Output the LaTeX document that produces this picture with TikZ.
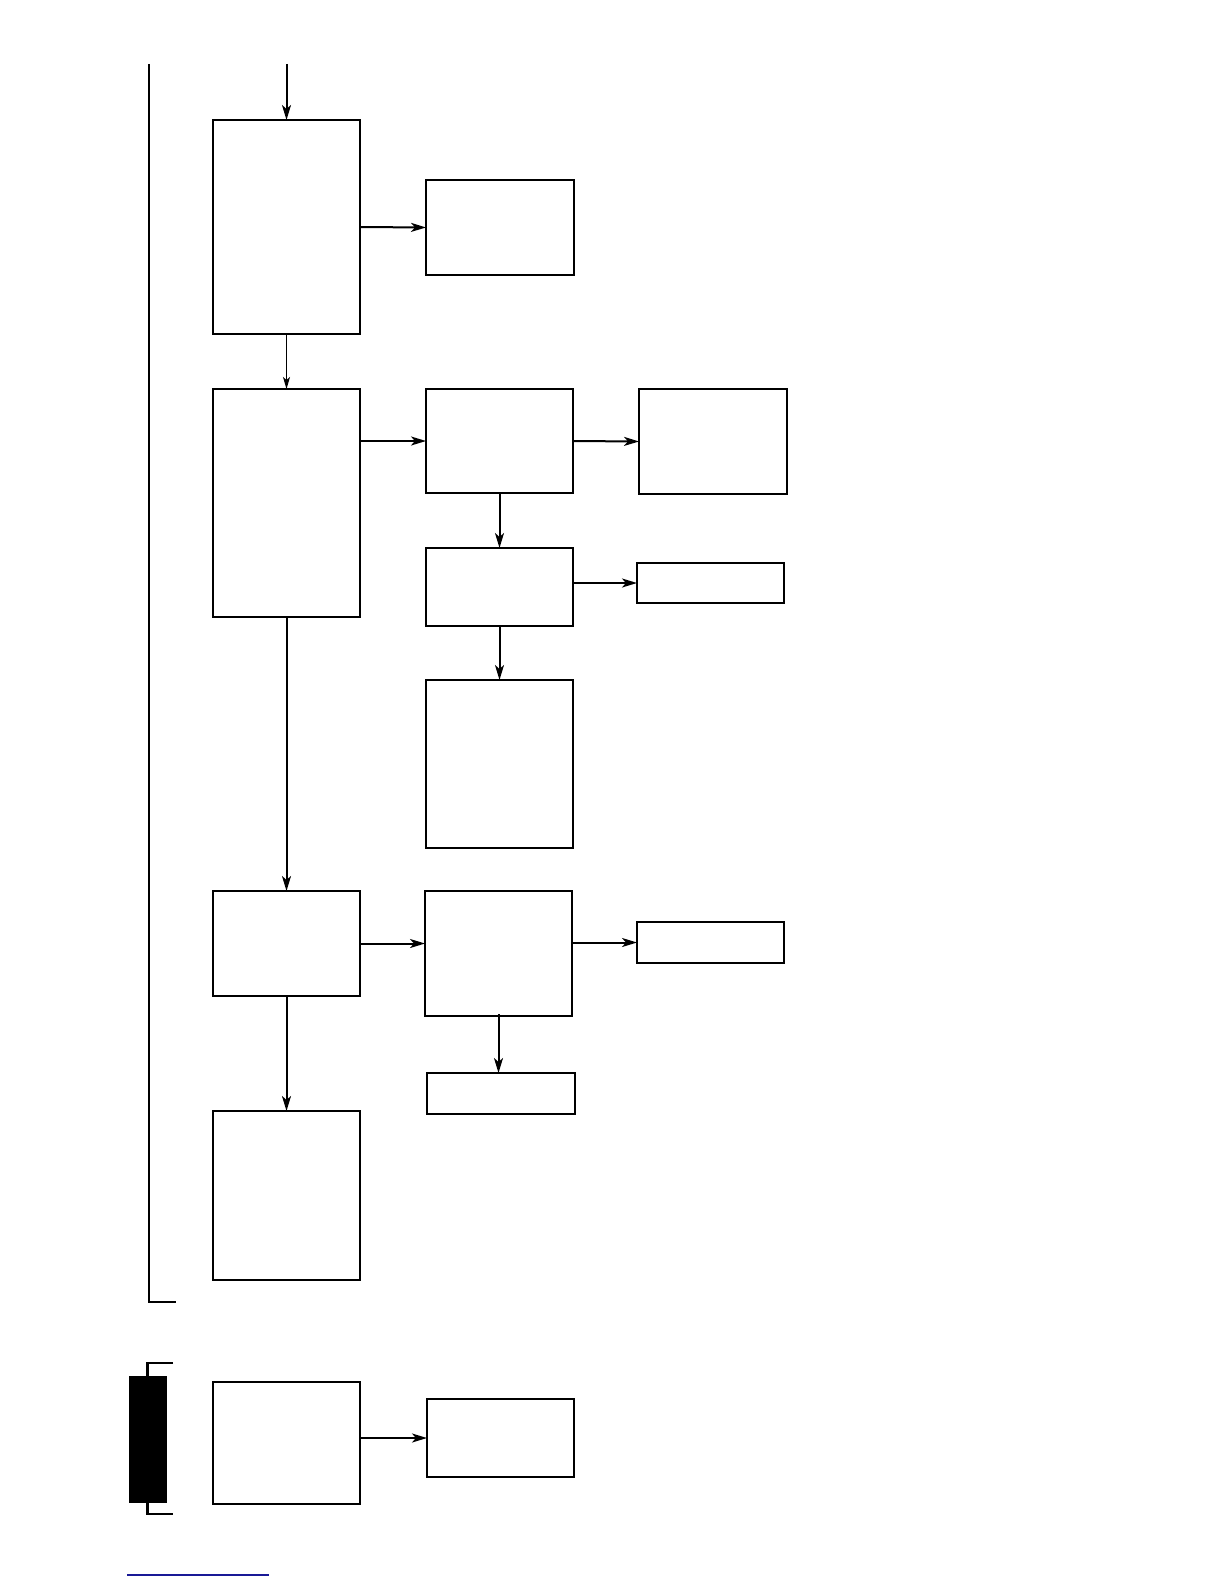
\documentclass[tikz,border=0pt]{standalone}
\usetikzlibrary{arrows.meta}
\begin{document}
\begin{tikzpicture}[x=1pt,y=-1pt,
  box/.style={draw,line width=2.2pt,rectangle,inner sep=0pt,outer sep=0pt,anchor=north west},
  conn/.style={line width=2pt,-{Stealth[length=15pt,width=9pt,inset=4pt]}},
  thinconn/.style={line width=1.2pt,-{Stealth[length=12pt,width=7pt,inset=3pt]}}]
\useasboundingbox (0,0) rectangle (1224,1584);
\newcommand{\bx}[5]{\node[box,minimum width=#4pt,minimum height=#5pt] (#1) at (#2,#3) {};}
\bx{A}{213}{120}{147}{214}
\bx{B}{426}{180}{148}{95}
\bx{C1}{213}{389}{147}{228}
\bx{B2}{426}{389}{147}{104}
\bx{C}{639}{389}{148}{105}
\bx{D}{426}{548}{147}{78}
\bx{E}{637}{563}{147}{40}
\bx{F}{426}{680}{147}{168}
\bx{G}{213}{891}{147}{105}
\bx{H}{425}{891}{147}{125}
\bx{I}{637}{922}{147}{41}
\bx{J}{427}{1073}{148}{41}
\bx{K}{213}{1111}{147}{169}
\bx{L}{213}{1382}{147}{122}
\bx{M}{427}{1399}{147}{78}
\coordinate (top) at (286.5,64);
\draw[conn] (top) -- (A.north);
\draw[conn] (A.east) -- (B.west);
\draw[thinconn] (A.south) -- (C1.north);
\draw[conn] (C1.east |- B2.west) -- (B2.west);
\draw[conn] (B2.east) -- (C.west);
\draw[conn] (B2.south) -- (D.north);
\draw[conn] (D.east |- E.west) -- (E.west);
\draw[conn] (D.south) -- (F.north);
\draw[conn] (C1.south) -- (G.north);
\draw[conn] (G.east) -- (G.east -| H.west);
\draw[conn] (H.east |- I.west) -- (I.west);
\coordinate (hs) at ([yshift=2pt]H.south);
\draw[conn] (hs) -- (J.north -| hs);
\draw[conn] (G.south) -- (K.north);
\draw[conn] (L.east |- M.west) -- (M.west);
% left bracket
\draw[line width=2.2pt] (149,64) -- (149,1302) -- (176,1302);
% lower bracket and black bar
\draw[line width=2.2pt] (173,1363) -- (147.5,1363) -- (147.5,1514) -- (173,1514);
\fill[black] (129,1376) rectangle (167,1503);
% blue rule
\draw[line width=1.2pt, color={rgb,255:red,25;green,25;blue,150}] (127,1575) -- (269,1575);
\end{tikzpicture}
\end{document}
